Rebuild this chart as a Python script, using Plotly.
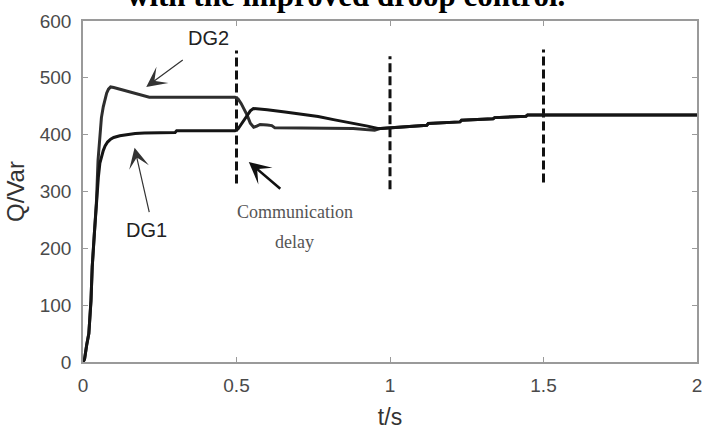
import plotly.graph_objects as go

# ---- data ----
dg1_t = [0, 0.005, 0.012, 0.019, 0.026, 0.030, 0.037, 0.044, 0.050, 0.055, 0.060, 0.066,
         0.072, 0.080, 0.090, 0.100, 0.120, 0.141, 0.170, 0.200, 0.300, 0.305, 0.495,
         0.505, 0.515, 0.525, 0.535, 0.545, 0.555, 0.600, 0.658, 0.712, 0.766, 0.820,
         0.873, 0.927, 0.960, 0.970, 1.120, 1.125, 1.228, 1.233, 1.336, 1.341, 1.443,
         1.448, 2.0]
dg1_q = [0, 5, 30, 50, 108, 167, 226, 284, 325, 350, 362, 372,
         380, 387, 392, 395, 398, 400, 402, 403, 404, 407, 407,
         410, 418, 427, 434, 442, 446, 444, 440, 436, 432, 426,
         421, 415, 411, 411, 416.5, 419.5, 422.5, 425.5, 428, 430, 432.5,
         434.5, 434.5]

dg2_t = [0, 0.005, 0.012, 0.019, 0.026, 0.030, 0.037, 0.044, 0.049, 0.055, 0.060, 0.066,
         0.072, 0.077, 0.083, 0.090, 0.100, 0.120, 0.140, 0.163, 0.190, 0.216, 0.495,
         0.505, 0.515, 0.525, 0.535, 0.545, 0.556, 0.566, 0.577, 0.600, 0.615, 0.625,
         0.800, 0.880, 0.920, 0.950, 0.970, 1.120, 1.125, 1.228, 1.233, 1.336, 1.341,
         1.443, 1.448, 2.0]
dg2_q = [0, 5, 30, 50, 108, 167, 226, 284, 355, 402, 430, 449,
         464, 473, 480, 484, 483, 480, 478, 474, 470, 466, 466,
         463, 455, 445, 434, 420, 413, 415, 418, 417, 416, 412,
         412, 411, 409, 408, 411, 416.5, 419.5, 422.5, 425.5, 428, 430,
         432.5, 434.5, 434.5]

marker_t = [0.5, 1.0, 1.5]
marker_low = [314, 304, 316]
marker_high = [548, 538, 550]

x_ticks = [0, 0.5, 1, 1.5, 2]
x_tick_text = ["0", "0.5", "1", "1.5", "2"]
y_ticks = [0, 100, 200, 300, 400, 500, 600]

# ---- figure ----
fig = go.Figure()

mx, my = [], []
for t, lo, hi in zip(marker_t, marker_low, marker_high):
    mx += [t, t, None]
    my += [lo, hi, None]
fig.add_trace(go.Scatter(x=mx, y=my, mode="lines",
                         line=dict(color="#111111", width=3, dash="9px,4px"),
                         hoverinfo="skip", showlegend=False))

fig.add_trace(go.Scatter(x=dg2_t, y=dg2_q, mode="lines", name="DG2",
                         line=dict(color="#2e2e2e", width=3), showlegend=False))
fig.add_trace(go.Scatter(x=dg1_t, y=dg1_q, mode="lines", name="DG1",
                         line=dict(color="#151515", width=3), showlegend=False))

axis_common = dict(showline=True, linecolor="#9a9a9a", linewidth=1.5, mirror="ticks",
                   ticks="inside", ticklen=5, tickcolor="#9a9a9a", tickwidth=1,
                   showgrid=False, zeroline=False,
                   tickfont=dict(family="Liberation Sans, Arial", size=19, color="#4a4a4a"))

fig.update_xaxes(range=[0, 2], tickvals=x_ticks, ticktext=x_tick_text,
                 title=dict(text="t/s", font=dict(family="Liberation Sans, Arial", size=23,
                                                   color="#333333"), standoff=14),
                 ticklabelstandoff=5, **axis_common)
fig.update_yaxes(range=[0, 600], tickvals=y_ticks,
                 title=dict(text="Q/Var", font=dict(family="Liberation Sans, Arial", size=24,
                                                     color="#333333"), standoff=8),
                 ticklabelstandoff=6, **axis_common)

ann_font = dict(family="Liberation Sans, Arial", size=20, color="#222222")
serif_font = dict(family="Liberation Serif, Times New Roman", size=18, color="#555555")

annotations = [
    dict(x=0.428, y=1.075, xref="paper", yref="paper", text="<b>with the improved droop control.</b>",
         showarrow=False, font=dict(family="Liberation Serif, Times New Roman", size=31, color="#000000"),
         xanchor="center", yanchor="middle"),
    dict(x=0.41, y=570, text="DG2", showarrow=False, font=ann_font),
    dict(x=0.206, y=484, text="", showarrow=True, ax=38, ay=-28, arrowhead=3,
         arrowsize=2.8, arrowwidth=1.2, arrowcolor="#333333"),
    dict(x=0.207, y=232, text="DG1", showarrow=False, font=ann_font),
    dict(x=0.168, y=377, text="", showarrow=True, ax=15, ay=66, arrowhead=3,
         arrowsize=2.8, arrowwidth=1.2, arrowcolor="#333333"),
    dict(x=0.69, y=264, text="Communication", showarrow=False, font=serif_font),
    dict(x=0.69, y=211, text="delay", showarrow=False, font=serif_font),
    dict(x=0.54, y=352, text="", showarrow=True, ax=33, ay=28, arrowhead=3,
         arrowsize=1.4, arrowwidth=2.6, arrowcolor="#111111"),
]

fig.update_layout(width=706, height=434, margin=dict(l=83, r=4, t=21, b=72),
                  plot_bgcolor="white", paper_bgcolor="white",
                  annotations=annotations, showlegend=False)

fig.write_html("out.html")
